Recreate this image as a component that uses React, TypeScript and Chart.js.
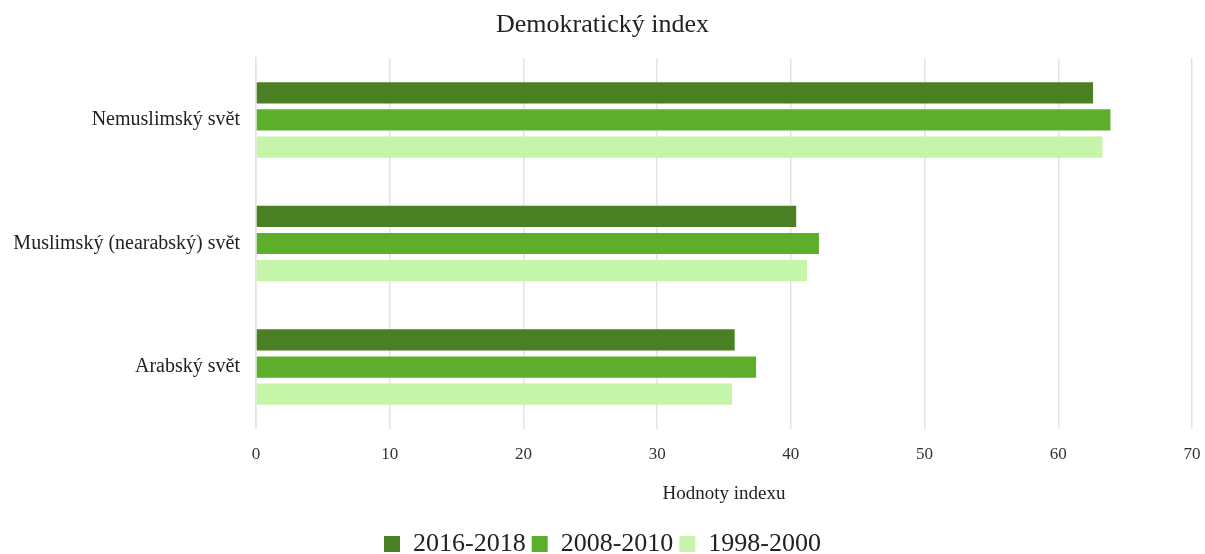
import React, { useEffect, useRef } from "react";
import { Chart, registerables } from "chart.js";

Chart.register(...registerables);

const categories = ["Nemuslimský svět", "Muslimský (nearabský) svět", "Arabský svět"];
const seriesLabels = ["2016-2018", "2008-2010", "1998-2000"];
const values2016 = [62.6, 40.4, 35.8];
const values2008 = [63.9, 42.1, 37.4];
const values1998 = [63.3, 41.2, 35.6];
const xTicks = [0, 10, 20, 30, 40, 50, 60, 70];
const colors = ["#4b7f24", "#5cae2b", "#c5f5a8"];

const FONT = "'Liberation Serif', 'Times New Roman', serif";

export default function App() {
  const ref = useRef<HTMLCanvasElement | null>(null);
  useEffect(() => {
    document.body.style.margin = "0";
    const ctx = ref.current!;
    const chart = new Chart(ctx, {
      type: "bar",
      data: {
        labels: categories,
        datasets: [values2016, values2008, values1998].map((d, i) => ({
          label: seriesLabels[i],
          data: d,
          backgroundColor: colors[i],
          borderWidth: 0,
          barPercentage: 0.78,
          categoryPercentage: 0.66,
        })),
      },
      options: {
        indexAxis: "y",
        animation: false,
        responsive: false,
        maintainAspectRatio: false,
        layout: { padding: { left: 0, right: 0, top: 0, bottom: -13 } },
        plugins: {
          title: {
            display: true,
            text: "Demokratický index",
            color: "#222",
            font: { family: FONT, size: 26, weight: "normal" },
            padding: { top: 10, bottom: 17 },
          },
          legend: {
            position: "bottom",
            labels: {
              color: "#222",
              font: { family: FONT, size: 26 },
              boxWidth: 16,
              boxHeight: 16,
              padding: 6,
            },
          },
          tooltip: { enabled: false },
        },
        scales: {
          x: {
            min: 0,
            max: 70,
            afterBuildTicks: (axis: any) => {
              axis.ticks = xTicks.map((v) => ({ value: v }));
            },
            afterFit: (s: any) => {
              s.paddingRight = 13;
            },
            grid: { color: "#e3e3e3", drawTicks: false, lineWidth: 1.5 },
            border: { display: false },
            ticks: {
              color: "#333",
              font: { family: FONT, size: 17 },
              padding: 16,
            },
            title: {
              display: true,
              text: "Hodnoty indexu",
              color: "#222",
              font: { family: FONT, size: 19 },
              padding: { top: 1, bottom: 20 },
            },
          },
          y: {
            afterFit: (s: any) => {
              s.width = 256;
            },
            grid: { display: false, drawTicks: false },
            border: { display: true, color: "#e3e3e3", width: 1.5 },
            ticks: {
              color: "#222",
              font: { family: FONT, size: 20 },
              padding: 16,
            },
          },
        },
      },
    });
    return () => chart.destroy();
  }, []);
  return <canvas ref={ref} width={1205} height={554} style={{ display: "block" }} />;
}
